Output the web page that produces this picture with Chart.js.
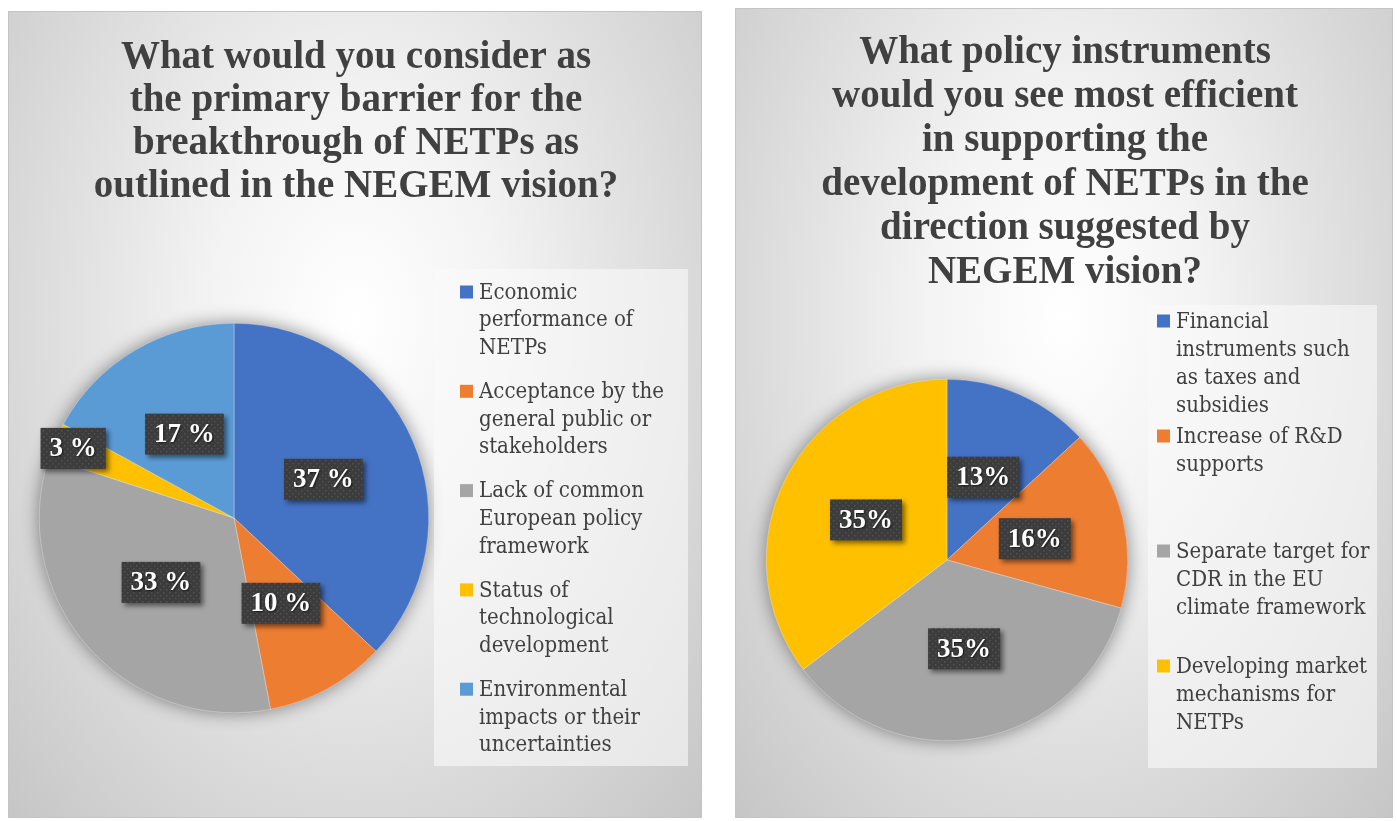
<!DOCTYPE html>
<html>
<head>
<meta charset="utf-8">
<script src="https://cdn.jsdelivr.net/npm/chart.js@4.4.1/dist/chart.umd.min.js"></script>
<style>
  body { margin: 0; background: #fff; width: 1397px; height: 821px; position: relative; overflow: hidden; }
  .panel {
    position: absolute;
    box-sizing: border-box;
    border: 1px solid #c4c4c4;
    background: radial-gradient(ellipse farthest-corner at 50% 38%, #ffffff 0%, #f3f3f3 30%, #dedede 62%, #c6c6c6 100%);
  }
  .panel canvas { position: absolute; left: 0; top: 0; }
</style>
</head>
<body>
<div class="panel" style="left:8px; top:11px; width:694px; height:807px;">
  <canvas id="barrierChart" width="694" height="807"></canvas>
</div>
<div class="panel" style="left:735px; top:8px; width:658px; height:810px;">
  <canvas id="policyChart" width="658" height="810"></canvas>
</div>
<script>
// Chart 1: primary barrier
const barrierTitle = ['What would you consider as', 'the primary barrier for the', 'breakthrough of NETPs as', 'outlined in the NEGEM vision?'];
const barrierCategories = [
  ['Economic', 'performance of', 'NETPs'],
  ['Acceptance by the', 'general public or', 'stakeholders'],
  ['Lack of common', 'European policy', 'framework'],
  ['Status of', 'technological', 'development'],
  ['Environmental', 'impacts or their', 'uncertainties']
];
const barrierValues = [37, 10, 33, 3, 17];
const barrierColors = ['#4472C4', '#ED7D31', '#A5A5A5', '#FFC000', '#5B9BD5'];

// Chart 2: policy instruments
const policyTitle = ['What policy instruments', 'would you see most efficient', 'in supporting the', 'development of NETPs in the', 'direction suggested by', 'NEGEM vision?'];
const policyCategories = [
  ['Financial', 'instruments such', 'as taxes and', 'subsidies'],
  ['Increase of R&D', 'supports'],
  ['Separate target for', 'CDR in the EU', 'climate framework'],
  ['Developing market', 'mechanisms for', 'NETPs']
];
const policyValues = [13, 16, 35, 35];
const policyColors = ['#4472C4', '#ED7D31', '#A5A5A5', '#FFC000'];

const TEXT_COLOR = '#404040';

// dotted dark fill used by the data labels
function makeDotPattern(ctx) {
  const c = document.createElement('canvas');
  c.width = 6; c.height = 6;
  const p = c.getContext('2d');
  p.fillStyle = '#3c3c3c';
  p.fillRect(0, 0, 6, 6);
  p.fillStyle = '#525252';
  p.fillRect(1, 1, 1.5, 1.5);
  p.fillRect(4, 4, 1.5, 1.5);
  return ctx.createPattern(c, 'repeat');
}

// soft shadow behind the pie
const pieShadow = {
  id: 'pieShadow',
  beforeDatasetsDraw(chart) {
    const arc = chart.getDatasetMeta(0).data[0];
    if (!arc) return;
    const ctx = chart.ctx;
    ctx.save();
    ctx.shadowColor = 'rgba(0,0,0,0.45)';
    ctx.shadowBlur = 18;
    ctx.beginPath();
    ctx.arc(arc.x, arc.y, arc.outerRadius, 0, Math.PI * 2);
    ctx.fillStyle = '#a5a5a5';
    ctx.fill();
    ctx.restore();
  }
};

// title drawn line by line
const titleLines = {
  id: 'titleLines',
  afterDraw(chart, args, opts) {
    const ctx = chart.ctx;
    ctx.save();
    ctx.font = 'bold 39px "Liberation Serif", serif';
    ctx.fillStyle = TEXT_COLOR;
    ctx.textAlign = 'center';
    ctx.textBaseline = 'middle';
    opts.lines.forEach((line, i) => {
      ctx.fillText(line, chart.width / 2, opts.top + i * opts.lineHeight);
    });
    ctx.restore();
  }
};

// percentage boxes on the slices
const sliceLabels = {
  id: 'sliceLabels',
  afterDatasetsDraw(chart, args, opts) {
    const ctx = chart.ctx;
    const data = chart.data.datasets[0].data;
    const total = data.reduce((a, b) => a + b, 0);
    const pattern = makeDotPattern(ctx);
    ctx.save();
    ctx.font = 'bold 27px "Liberation Serif", serif';
    ctx.textAlign = 'center';
    ctx.textBaseline = 'middle';
    chart.getDatasetMeta(0).data.forEach((arc, i) => {
      const mid = (arc.startAngle + arc.endAngle) / 2;
      const f = data[i] / total < 0.05 ? 0.9 : 0.5;
      const x = arc.x + Math.cos(mid) * arc.outerRadius * f;
      const y = arc.y + Math.sin(mid) * arc.outerRadius * f;
      const text = data[i] + opts.suffix;
      const w = ctx.measureText(text).width + 18;
      const h = 41;
      ctx.save();
      ctx.shadowColor = 'rgba(0,0,0,0.5)';
      ctx.shadowBlur = 5;
      ctx.shadowOffsetX = 3;
      ctx.shadowOffsetY = 3;
      ctx.fillStyle = pattern;
      ctx.fillRect(x - w / 2, y - h / 2, w, h);
      ctx.restore();
      ctx.save();
      ctx.shadowColor = 'rgba(0,0,0,0.6)';
      ctx.shadowBlur = 2;
      ctx.shadowOffsetX = 1;
      ctx.shadowOffsetY = 1;
      ctx.fillStyle = '#ffffff';
      ctx.fillText(text, x, y + 1);
      ctx.restore();
    });
    ctx.restore();
  }
};

// legend on the right, with wrapped lines
const sideLegend = {
  id: 'sideLegend',
  afterDraw(chart, args, opts) {
    const ctx = chart.ctx;
    const ds = chart.data.datasets[0];
    ctx.save();
    ctx.fillStyle = 'rgba(250,250,250,0.6)';
    ctx.fillRect(opts.box[0], opts.box[1], opts.box[2], opts.box[3]);
    ctx.font = '22px "DejaVu Serif Condensed", "Liberation Serif", serif';
    ctx.textBaseline = 'middle';
    ctx.textAlign = 'left';
    chart.data.labels.forEach((lines, i) => {
      const y0 = opts.firstY + i * opts.slot;
      ctx.fillStyle = ds.backgroundColor[i];
      ctx.fillRect(opts.squareX, y0 - 6.5, 13, 13);
      ctx.fillStyle = TEXT_COLOR;
      lines.forEach((line, j) => {
        ctx.fillText(line, opts.textX, y0 + j * opts.lineHeight + 1);
      });
    });
    ctx.restore();
  }
};

function makePie(id, labels, values, colors, padding, title, suffix, legend) {
  return new Chart(document.getElementById(id), {
    type: 'pie',
    data: {
      labels: labels,
      datasets: [{
        data: values,
        backgroundColor: colors,
        borderColor: 'rgba(255,255,255,0.6)',
        borderWidth: 0.5,
        hoverOffset: 0
      }]
    },
    options: {
      responsive: false,
      animation: false,
      layout: { padding: padding },
      plugins: {
        legend: { display: false },
        tooltip: { enabled: false },
        titleLines: title,
        sliceLabels: { suffix: suffix },
        sideLegend: legend
      }
    },
    plugins: [pieShadow, titleLines, sliceLabels, sideLegend]
  });
}

makePie('barrierChart', barrierCategories, barrierValues, barrierColors,
  { left: 30, top: 311, right: 274, bottom: 106 },
  { lines: barrierTitle, top: 46, lineHeight: 43 },
  ' %',
  { box: [425, 257, 254, 497], squareX: 451, textX: 470, firstY: 280, lineHeight: 27.7, slot: 99.3 });

makePie('policyChart', policyCategories, policyValues, policyColors,
  { left: 30, top: 370, right: 266, bottom: 78 },
  { lines: policyTitle, top: 44, lineHeight: 44 },
  '%',
  { box: [412, 296, 229, 463], squareX: 421, textX: 440, firstY: 312, lineHeight: 28, slot: 115 });
</script>
</body>
</html>
